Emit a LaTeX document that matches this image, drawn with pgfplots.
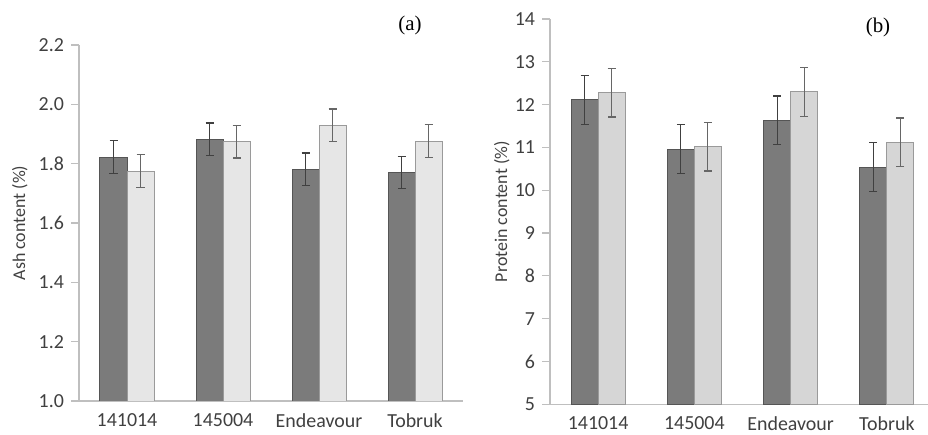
\documentclass[border=0pt]{standalone}
\usepackage{pgfplots}
\pgfplotsset{compat=1.18}
\usepackage{fontspec}
\setmainfont{Carlito}
\newfontfamily\serifone{Liberation Serif}
\definecolor{darkbar}{HTML}{7B7B7B}
\definecolor{darkedge}{HTML}{555555}
\definecolor{lightbarA}{HTML}{E6E6E6}
\definecolor{lightbarB}{HTML}{D6D6D6}
\definecolor{lightedge}{HTML}{9A9A9A}
\definecolor{axisgray}{HTML}{BFBFBF}
\definecolor{textgray}{HTML}{404040}
\pgfplotsset{
  panel/.style={
    scale only axis,
    anchor=south west,
    ybar=0pt,
    bar width=13.5bp,
    axis x line=bottom,
    axis y line=left,
    axis line style={-, draw=axisgray, line width=0.6bp},
    xmin=-0.5, xmax=3.5,
    xtick={0,1,2,3},
    xticklabels={141014,145004,Endeavour,Tobruk},
    x tick style={draw=none},
    extra x ticks={0.5,1.5,2.5},
    extra x tick labels={},
    extra x tick style={tick style={draw=axisgray, line width=0.6bp}, major tick length=4bp, tick align=outside},
    y tick style={draw=axisgray, line width=0.6bp},
    major tick length=4bp,
    tick align=outside,
    ymajorgrids=false,
    /pgf/number format/assume math mode=true,
    tick label style={font=\fontsize{10}{11}\selectfont, text=textgray},
    xticklabel style={yshift=-0.5bp, inner sep=1.5bp},
    label style={font=\fontsize{9}{10}\selectfont, text=textgray},
    error bars/y dir=both,
    error bars/y explicit,
  },
  darkser/.style={fill=darkbar, draw=darkedge, line width=0.5bp,
    error bars/error bar style={draw=black!75, line width=0.6bp},
    error bars/error mark options={rotate=90, mark size=2bp, draw=black!75, line width=0.6bp}},
  lightser/.style={draw=lightedge, line width=0.5bp,
    error bars/error bar style={draw=black!60, line width=0.6bp},
    error bars/error mark options={rotate=90, mark size=2bp, draw=black!60, line width=0.6bp}},
}
\begin{document}
\begin{tikzpicture}
\useasboundingbox (0,0) rectangle (464bp,217.5bp);
% Panel (a)
\begin{axis}[panel,
  at={(39.5bp,17bp)},
  width=192bp, height=178bp,
  ymin=1.0, ymax=2.2,
  ytick={1.0,1.2,1.4,1.6,1.8,2.0,2.2},
  yticklabel style={/pgf/number format/.cd, fixed, fixed zerofill, precision=1},
  ylabel={Ash content (\%)},
  ylabel style={at={(axis description cs:-0.154,0.5)}, anchor=center, rotate=0},
]
\addplot[darkser] coordinates {(0,1.822) +- (0,0.055) (1,1.882) +- (0,0.055) (2,1.781) +- (0,0.055) (3,1.770) +- (0,0.055)};
\addplot[lightser, fill=lightbarA] coordinates {(0,1.775) +- (0,0.055) (1,1.874) +- (0,0.055) (2,1.929) +- (0,0.055) (3,1.876) +- (0,0.055)};
\end{axis}
% Panel (b)
\begin{axis}[panel,
  at={(275bp,15.35bp)},
  width=192.5bp, height=192.65bp,
  ymin=5, ymax=14,
  ytick={5,6,...,14},
  ylabel={Protein content (\%)},
  ylabel style={at={(axis description cs:-0.1255,0.5)}, anchor=center, rotate=0},
]
\addplot[darkser] coordinates {(0,12.11) +- (0,0.57) (1,10.96) +- (0,0.57) (2,11.63) +- (0,0.57) (3,10.54) +- (0,0.57)};
\addplot[lightser, fill=lightbarB] coordinates {(0,12.28) +- (0,0.57) (1,11.02) +- (0,0.57) (2,12.30) +- (0,0.57) (3,11.12) +- (0,0.57)};
\end{axis}
\node[font=\serifone\fontsize{10.5}{12}\selectfont] at (205bp,205bp) {(a)};
\node[font=\serifone\fontsize{10.5}{12}\selectfont] at (439bp,204bp) {(b)};
\end{tikzpicture}
\end{document}
